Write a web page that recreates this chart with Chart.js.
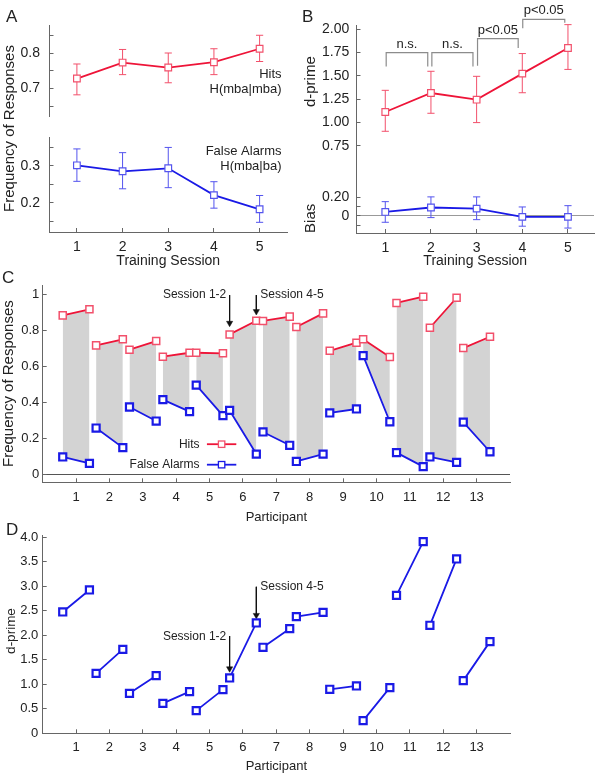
<!DOCTYPE html>
<html>
<head>
<meta charset="utf-8">
<script src="https://cdn.jsdelivr.net/npm/chart.js@4.4.1/dist/chart.umd.min.js"></script>
<style>
  html, body { margin: 0; padding: 0; background: #fff; }
  #fig { position: relative; width: 600px; height: 775px; overflow: hidden; }
  canvas { position: absolute; }
</style>
</head>
<body>
<div id="fig">
  <canvas id="chartA2" width="300" height="270" style="left:0;top:0"></canvas>
  <canvas id="chartA1" width="300" height="122" style="left:0;top:0"></canvas>
  <canvas id="chartB" width="300" height="270" style="left:300px;top:0"></canvas>
  <canvas id="chartC" width="600" height="256" style="left:0;top:270px"></canvas>
  <canvas id="chartD" width="600" height="255" style="left:0;top:520px"></canvas>
</div>
<script>
// ---- data: panels A and B (per training session) ----
const sessions = [1, 2, 3, 4, 5];
const hitsMean = [0.728, 0.773, 0.759, 0.774, 0.812];
const hitsLow = [0.682, 0.739, 0.716, 0.739, 0.776];
const hitsHigh = [0.769, 0.810, 0.800, 0.812, 0.850];
const faMean = [0.301, 0.285, 0.293, 0.221, 0.183];
const faLow = [0.258, 0.238, 0.241, 0.186, 0.148];
const faHigh = [0.345, 0.335, 0.349, 0.257, 0.220];
const dprimeMean = [1.114, 1.317, 1.246, 1.525, 1.800];
const dprimeLow = [0.907, 1.100, 1.000, 1.320, 1.570];
const dprimeHigh = [1.346, 1.550, 1.496, 1.740, 2.050];
const biasMean = [0.043, 0.090, 0.078, -0.010, -0.010];
const biasLow = [-0.068, -0.018, -0.040, -0.110, -0.130];
const biasHigh = [0.153, 0.204, 0.204, 0.096, 0.110];

// significance brackets in panel B
const bracketLeft = [1.02, 2.02, 3.02, 4.01];
const bracketRight = [1.93, 2.92, 3.91, 4.93];
const bracketTop = [1.75, 1.75, 1.90, 2.107];
const bracketLegLeft = [1.60, 1.60, 1.61, 2.01];
const bracketLegRight = [1.60, 1.60, 1.80, 2.07];
const bracketText = ['n.s.', 'n.s.', 'p<0.05', 'p<0.05'];

// ---- data: panels C and D (per participant, session 1-2 vs 4-5) ----
const participants = [1, 2, 3, 4, 5, 6, 7, 8, 9, 10, 11, 12, 13];
const hitsFirst = [0.883, 0.716, 0.692, 0.653, 0.675, 0.777, 0.852, 0.818, 0.686, 0.750, 0.952, 0.814, 0.701];
const hitsLast = [0.917, 0.750, 0.740, 0.675, 0.672, 0.853, 0.876, 0.894, 0.731, 0.651, 0.987, 0.981, 0.764];
const faFirst = [0.095, 0.256, 0.373, 0.414, 0.495, 0.354, 0.234, 0.070, 0.340, 0.659, 0.119, 0.095, 0.289];
const faLast = [0.059, 0.147, 0.295, 0.347, 0.325, 0.111, 0.160, 0.111, 0.362, 0.291, 0.041, 0.065, 0.124];
const dFirst = [2.476, 1.224, 0.816, 0.612, 0.463, 1.129, 1.755, 2.381, 0.898, 0.259, 2.816, 2.204, 1.075];
const dLast = [2.925, 1.714, 1.177, 0.850, 0.891, 2.252, 2.136, 2.469, 0.966, 0.932, 3.912, 3.558, 1.871];
const SESSION_SHIFT = 0.4;

// arrows "Session 1-2" / "Session 4-5"
const arrowX = [5.6, 6.4];
const arrowFromC = [0.996, 0.996];
const arrowToC = [0.84, 0.905];
const arrowFromD = [1.985, 2.99];
const arrowToD = [1.32, 2.41];

// tick values
const sessionTicks = [1, 2, 3, 4, 5];
const hitsTicks = [0.65, 0.7, 0.75, 0.8, 0.85];
const hitsLabeled = [0.7, 0.8];
const faTicks = [0.15, 0.2, 0.25, 0.3, 0.35];
const faLabeled = [0.2, 0.3];
const bTicks = [-0.1, 0, 0.1, 0.2, 0.75, 1, 1.25, 1.5, 1.75, 2];
const bUnlabeled = [-0.1, 0.1];
const cTicks = [0, 0.2, 0.4, 0.6, 0.8, 1];
const dTicks = [0, 0.5, 1, 1.5, 2, 2.5, 3, 3.5, 4];

const RED = '#ee1438';
const RED_LIGHT = '#f2506b';
const BLUE = '#1a1ae6';
const BLUE_LIGHT = '#5454ee';
const AXIS = '#666666';
const TEXT = '#222222';
const FONT = '"Liberation Sans", Arial, Helvetica, sans-serif';

Chart.defaults.font.family = FONT;
Chart.defaults.color = TEXT;
Chart.defaults.plugins.legend.display = false;
Chart.defaults.plugins.tooltip.enabled = false;

function seriesPoints(xs, ys) {
    return xs.map((x, i) => ({x: x, y: ys[i]}));
}

function errorBars(xs, lo, hi) {
    const pts = [];
    xs.forEach((x, i) => pts.push({x: x, y: lo[i]}, {x: x, y: hi[i]}, {x: x, y: null}));
    return pts;
}

function sessionPairs(first, last) {
    const pts = [];
    participants.forEach((p, i) => {
        pts.push({x: p - SESSION_SHIFT, y: first[i]}, {x: p + SESSION_SHIFT, y: last[i]}, {x: p + 0.5, y: null});
    });
    return pts;
}

function arrowPoints(xs, from, to) {
    const pts = [];
    xs.forEach((x, i) => pts.push({x: x, y: from[i]}, {x: x, y: to[i]}, {x: x, y: null}));
    return pts;
}

function bracketPoints() {
    const pts = [];
    bracketLeft.forEach((x1, i) => {
        const x2 = bracketRight[i];
        pts.push({x: x1, y: bracketLegLeft[i]}, {x: x1, y: bracketTop[i]},
                 {x: x2, y: bracketTop[i]}, {x: x2, y: bracketLegRight[i]}, {x: x2, y: null});
    });
    return pts;
}

// text annotations, either in data units or in canvas pixels (px: true)
function makeNotes(items) {
    return {
        id: 'notes',
        afterDraw(chart) {
            const ctx = chart.ctx;
            const xs = chart.scales.x, ys = chart.scales.y;
            items.forEach(n => {
                const px = n.px ? n.x : xs.getPixelForValue(n.x);
                const py = n.px ? n.y : ys.getPixelForValue(n.y);
                ctx.save();
                if (n.legend) {
                    const x1 = xs.getPixelForValue(n.from), x2 = xs.getPixelForValue(n.to);
                    ctx.strokeStyle = n.color;
                    ctx.lineWidth = 1.8;
                    ctx.beginPath(); ctx.moveTo(x1, py); ctx.lineTo(x2, py); ctx.stroke();
                    const mx = (x1 + x2) / 2, s = 3.2;
                    ctx.fillStyle = '#fff';
                    ctx.fillRect(mx - s, py - s, 2 * s, 2 * s);
                    ctx.lineWidth = 1.3;
                    ctx.strokeStyle = n.marker;
                    ctx.strokeRect(mx - s, py - s, 2 * s, 2 * s);
                }
                ctx.font = (n.size || 13) + 'px ' + FONT;
                ctx.fillStyle = TEXT;
                ctx.textAlign = n.align || 'left';
                ctx.textBaseline = n.baseline || 'middle';
                ctx.translate(n.legend ? xs.getPixelForValue(n.textX) : px, py);
                if (n.rotate) ctx.rotate(n.rotate * Math.PI / 180);
                ctx.fillText(n.text, 0, 0);
                ctx.restore();
            });
        }
    };
}

function xScale(min, max, opts) {
    return {
        type: 'linear', min: min, max: max, display: opts.display !== false,
        afterBuildTicks: s => { s.ticks = opts.ticks.map(v => ({value: v})); },
        afterFit: s => { s.height = opts.height || 0; s.paddingLeft = 0; s.paddingRight = 0; },
        border: {color: AXIS, width: 1},
        grid: {drawOnChartArea: false, color: 'transparent', tickColor: AXIS, tickLength: -4},
        ticks: {font: {size: opts.size, lineHeight: 1.2}, padding: opts.pad, color: TEXT, maxRotation: 0, autoSkip: false},
        title: {display: !!opts.title, text: opts.title, color: TEXT,
                font: {size: opts.size, lineHeight: 1}, padding: {top: 0, bottom: 2}}
    };
}

function yScale(min, max, opts) {
    return {
        type: 'linear', min: min, max: max,
        afterBuildTicks: s => { s.ticks = opts.ticks.map(v => ({value: v})); },
        afterFit: s => { s.width = opts.width; s.paddingTop = 0; s.paddingBottom = 0; },
        border: {color: AXIS, width: 1},
        grid: {
            drawOnChartArea: !!opts.zero,
            color: c => (opts.zero && c.tick && c.tick.value === 0) ? opts.zero : 'transparent',
            tickColor: AXIS, tickLength: -4
        },
        ticks: {font: {size: opts.size, lineHeight: 1.2}, padding: opts.pad, color: TEXT, callback: opts.label}
    };
}

const commonOptions = (padding, scales) => ({
    responsive: false,
    animation: false,
    events: [],
    layout: {padding: padding},
    plugins: {filler: {drawTime: 'beforeDatasetsDraw'}},
    scales: scales
});

const mainLine = (data, color, light, radius, pw) => ({
    data: data, borderColor: color, borderWidth: 1.8, fill: false,
    pointStyle: 'rect', pointRadius: radius, pointBorderColor: light,
    pointBackgroundColor: '#fff', pointBorderWidth: pw
});

const errLine = (data, color) => ({
    data: data, borderColor: color, borderWidth: 1, fill: false, clip: false,
    pointStyle: 'line', pointRadius: 3.6, pointBorderColor: color, pointBorderWidth: 1
});

// ---- Panel A, top: hits ----
new Chart(document.getElementById('chartA1'), {
    type: 'line',
    data: {datasets: [
        mainLine(seriesPoints(sessions, hitsMean), RED, RED_LIGHT, 4.7, 1.2),
        errLine(errorBars(sessions, hitsLow, hitsHigh), RED_LIGHT)
    ]},
    options: commonOptions({left: 0, top: 25, right: 13, bottom: 2}, {
        x: xScale(0.4, 5.6, {display: false, ticks: sessionTicks, size: 14, pad: 11}),
        y: yScale(0.622, 0.879, {ticks: hitsTicks, width: 49.5, size: 14, pad: 13.5,
            label: v => hitsLabeled.includes(v) ? v.toFixed(1) : ''})
    }),
    plugins: [makeNotes([
        {text: 'Hits', x: 5.48, y: 0.739, align: 'right', size: 13},
        {text: 'H(mba|mba)', x: 5.48, y: 0.698, align: 'right', size: 13}
    ])]
});

// ---- Panel A, bottom: false alarms ----
new Chart(document.getElementById('chartA2'), {
    type: 'line',
    data: {datasets: [
        mainLine(seriesPoints(sessions, faMean), BLUE, BLUE_LIGHT, 4.7, 1.2),
        errLine(errorBars(sessions, faLow, faHigh), BLUE_LIGHT)
    ]},
    options: commonOptions({left: 0, top: 137, right: 13, bottom: 0}, {
        x: xScale(0.4, 5.6, {ticks: sessionTicks, size: 14, pad: 11.1, height: 38, title: 'Training Session'}),
        y: yScale(0.122, 0.377, {ticks: faTicks, width: 49.5, size: 14, pad: 13.5,
            label: v => faLabeled.includes(v) ? v.toFixed(1) : ''})
    }),
    plugins: [makeNotes([
        {text: 'False Alarms', x: 5.48, y: 0.337, align: 'right', size: 13},
        {text: 'H(mba|ba)', x: 5.48, y: 0.297, align: 'right', size: 13},
        {text: 'A', x: 6, y: 22, px: true, size: 17, baseline: 'alphabetic'},
        {text: 'Frequency of Responses', x: 10, y: 128.5, px: true, size: 15, align: 'center', rotate: -90}
    ])]
});

// ---- Panel B: d-prime and bias ----
const bracketNotes = bracketText.map((t, i) => ({
    text: t, x: (bracketLeft[i] + bracketRight[i]) / 2, y: bracketTop[i] + 0.09, align: 'center', size: 13
}));

new Chart(document.getElementById('chartB'), {
    type: 'line',
    data: {datasets: [
        mainLine(seriesPoints(sessions, dprimeMean), RED, RED_LIGHT, 4.7, 1.2),
        mainLine(seriesPoints(sessions, biasMean), BLUE, BLUE_LIGHT, 4.7, 1.2),
        errLine(errorBars(sessions, dprimeLow, dprimeHigh), RED_LIGHT),
        errLine(errorBars(sessions, biasLow, biasHigh), BLUE_LIGHT),
        {data: bracketPoints(), borderColor: '#8c8c8c', borderWidth: 1.2, pointRadius: 0, fill: false, clip: false}
    ]},
    options: commonOptions({left: 0, top: 25, right: 6, bottom: 0}, {
        x: xScale(0.37, 5.57, {ticks: sessionTicks, size: 14, pad: 10.4, height: 37, title: 'Training Session'}),
        y: yScale(-0.183, 2.046, {ticks: bTicks, width: 56.5, size: 14, pad: 11.2, zero: '#999999',
            label: v => bUnlabeled.includes(v) ? '' : (v === 0 ? '0' : v.toFixed(2))})
    }),
    plugins: [makeNotes(bracketNotes.concat([
        {text: 'B', x: 2, y: 22, px: true, size: 17, baseline: 'alphabetic'},
        {text: 'd-prime', x: 11, y: 81.7, px: true, size: 15, align: 'center', rotate: -90},
        {text: 'Bias', x: 11, y: 218.3, px: true, size: 15, align: 'center', rotate: -90}
    ]))]
});

const arrowHead = c => (c.dataIndex % 3 === 1 ? 3.6 : 0);
const arrowSet = data => ({
    data: data, borderColor: '#111', borderWidth: 1, fill: false, clip: false,
    pointStyle: 'triangle', pointRotation: 180, pointRadius: arrowHead,
    pointBackgroundColor: '#111', pointBorderColor: '#111', pointBorderWidth: 0.5
});

// ---- Panel C: hits / false alarms per participant ----
new Chart(document.getElementById('chartC'), {
    type: 'line',
    data: {datasets: [
        mainLine(sessionPairs(hitsFirst, hitsLast), RED, RED_LIGHT, 5, 1.5),
        Object.assign(mainLine(sessionPairs(faFirst, faLast), BLUE, BLUE, 5, 2.2),
                      {fill: '-1', backgroundColor: '#d3d3d3'}),
        arrowSet(arrowPoints(arrowX, arrowFromC, arrowToC))
    ]},
    options: commonOptions({left: 0, top: 15, right: 90, bottom: 0}, {
        x: xScale(0, 14, {ticks: participants, size: 13, pad: 11.3, height: 43.7, title: 'Participant'}),
        y: yScale(-0.046, 1.052, {ticks: cTicks, width: 42.7, size: 13, pad: 7.4, zero: '#555555',
            label: v => (v === 0 || v === 1) ? String(v) : v.toFixed(1)})
    }),
    plugins: [makeNotes([
        {text: 'C', x: 2, y: 13.3, px: true, size: 17, baseline: 'alphabetic'},
        {text: 'Frequency of Responses', x: 8.5, y: 383.6 - 270, px: true, size: 15, align: 'center', rotate: -90},
        {text: 'Session 1-2', x: 5.5, y: 1.0, align: 'right', size: 12},
        {text: 'Session 4-5', x: 6.52, y: 1.0, align: 'left', size: 12},
        {legend: true, text: 'Hits', textX: 4.7, x: 0, y: 0.166, from: 4.92, to: 5.8, color: RED, marker: RED_LIGHT, align: 'right', size: 12},
        {legend: true, text: 'False Alarms', textX: 4.7, x: 0, y: 0.052, from: 4.92, to: 5.8, color: BLUE, marker: BLUE, align: 'right', size: 12}
    ])]
});

// ---- Panel D: d-prime per participant ----
new Chart(document.getElementById('chartD'), {
    type: 'line',
    data: {datasets: [
        mainLine(sessionPairs(dFirst, dLast), BLUE, BLUE, 5, 2.2),
        arrowSet(arrowPoints(arrowX, arrowFromD, arrowToD))
    ]},
    options: commonOptions({left: 0, top: 15, right: 90, bottom: 0}, {
        x: xScale(0, 14, {ticks: participants, size: 13, pad: 10.2, height: 41.7, title: 'Participant'}),
        y: yScale(0, 4.047, {ticks: dTicks, width: 42.7, size: 13, pad: 8.4,
            label: v => v === 0 ? '0' : v.toFixed(1)})
    }),
    plugins: [makeNotes([
        {text: 'D', x: 6, y: 15, px: true, size: 17, baseline: 'alphabetic'},
        {text: 'd-prime', x: 11.7, y: 111, px: true, size: 13.5, align: 'center', rotate: -90},
        {text: 'Session 1-2', x: 5.5, y: 1.97, align: 'right', size: 12},
        {text: 'Session 4-5', x: 6.52, y: 2.985, align: 'left', size: 12}
    ])]
});
</script>
</body>
</html>
